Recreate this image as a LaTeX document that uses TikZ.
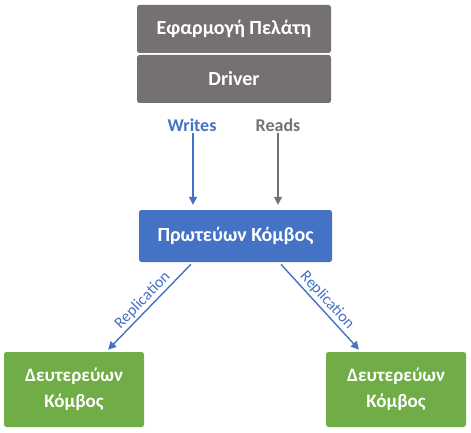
\documentclass[tikz,border=0pt]{standalone}
\usepackage{fontspec}
\setmainfont{Carlito}
\usetikzlibrary{arrows.meta}

\definecolor{clientgray}{HTML}{767171}
\definecolor{primblue}{HTML}{4472C4}
\definecolor{secgreen}{HTML}{70AD47}

\begin{document}
\begin{tikzpicture}[x=1pt,y=-1pt,
    box/.style={rounded corners=2.5pt, text=white, inner sep=0pt, align=center,
      font=\fontsize{19}{26}\selectfont\bfseries},
    bigbox/.style={box, font=\fontsize{20}{24}\selectfont\bfseries},
    wire/.style={line width=1.4pt, -{Triangle[width=8pt,length=8pt]}},
    tag/.style={font=\fontsize{18}{20}\selectfont\bfseries, inner sep=1pt},
    rep/.style={font=\fontsize{16}{18}\selectfont, inner sep=2pt}]

      \useasboundingbox (0,0) rectangle (471,433);

      % client side
      \node[bigbox, fill=clientgray, minimum width=194pt, minimum height=48pt] (app) at (234,29) {Εφαρμογή Πελάτη};
      \node[bigbox, fill=clientgray, minimum width=194pt, minimum height=48pt] (driver) at (234,79) {Driver};

      \node[tag, text=primblue] (writes) at (192,125) {Writes};
      \node[tag, text=clientgray] (reads) at (278,125) {Reads};

      % nodes
      \node[bigbox, fill=primblue, minimum width=193pt, minimum height=52pt] (primary) at (235.5,236) {Πρωτεύων Κόμβος};
      \node[box, fill=secgreen, minimum width=140pt, minimum height=75pt] (secL) at (74,389.5) {Δευτερεύων\\Κόμβος};
      \node[box, fill=secgreen, minimum width=140pt, minimum height=75pt] (secR) at (396,389.5) {Δευτερεύων\\Κόμβος};

      \draw[wire, primblue, shorten >=5pt] ([xshift=1pt]writes.south) -- ([xshift=1pt]writes.south |- primary.north);
      \draw[wire, clientgray, shorten >=5pt] (reads.south) -- (reads.south |- primary.north);

      \draw[wire, primblue, shorten <=3pt, shorten >=3pt] ([xshift=-42.5pt]primary.south) -- ([xshift=32pt]secL.north)
        node[midway, sloped, above, rep] {Replication};
      \draw[wire, primblue, shorten <=3pt, shorten >=3pt] ([xshift=43.5pt]primary.south) -- ([xshift=-35pt]secR.north)
        node[midway, sloped, above, rep] {Replication};

    \end{tikzpicture}
\end{document}
